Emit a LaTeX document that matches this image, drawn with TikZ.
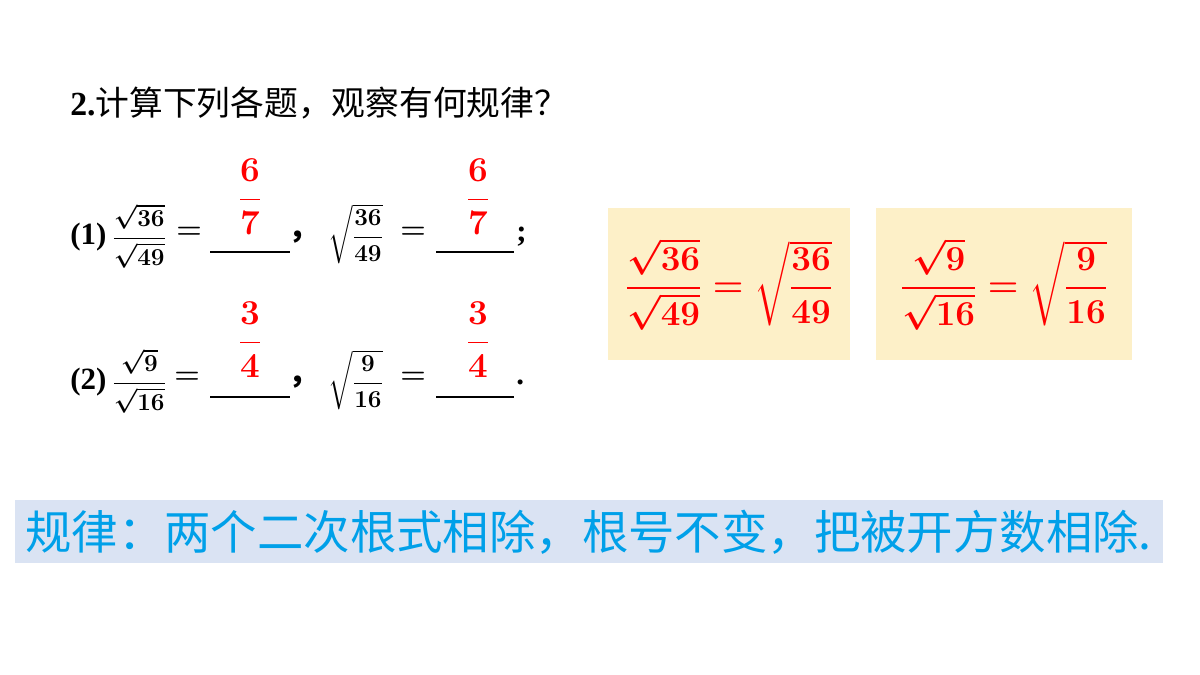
\documentclass[tikz,border=0pt]{standalone}
\usepackage{amsmath}
\usepackage{fontspec}
\setmainfont{Liberation Serif}
\newfontfamily\cjk{Noto Sans CJK SC}
\definecolor{ansred}{RGB}{255,0,0}
\definecolor{boxyellow}{RGB}{253,240,200}
\definecolor{bandblue}{RGB}{218,227,243}
\definecolor{ruleblue}{RGB}{0,160,233}
\tikzset{
  txt/.style={anchor=west, inner sep=0pt, font=\fontsize{22}{26}\selectfont\bfseries\boldmath},
  mth/.style={anchor=west, inner sep=0pt, font=\fontsize{19}{22}\selectfont\bfseries\boldmath},
  ans/.style={inner sep=0pt, text=ansred, font=\fontsize{27}{30}\selectfont\bfseries\boldmath},
  big/.style={inner sep=0pt, text=ansred, font=\fontsize{28}{34}\selectfont\bfseries\boldmath},
  blank/.style={thick, black}
}
\begin{document}
\begin{tikzpicture}[x=0.025cm, y=-0.025cm]
  \useasboundingbox (0,0) rectangle (1200,675);
  % title
  \node[txt, font=\fontsize{24}{28}\selectfont\bfseries] (title) at (70,103) {2.{\cjk\mdseries 计算下列各题，观察有何规律？}};
  % row 1
  \node[txt] (r1) at (70,237) {(1)};
  \node[mth] (q1) at (112,236) {$\dfrac{\sqrt{36}}{\sqrt{49}}$};
  \node[txt] (e1) at (176,233) {$=$};
  \coordinate (b1a) at (210,252); \coordinate (b1b) at (290,252);
  \draw[blank] (b1a) -- (b1b);
  \node[ans] (a1) at (250,197) {$\dfrac{6}{7}$};
  \node[txt] (c1) at (288,237) {\cjk ，};
  \node[mth] (q2) at (328,234) {$\sqrt{\dfrac{36}{49}}$};
  \node[txt] (e2) at (400,233) {$=$};
  \coordinate (b2a) at (436,252); \coordinate (b2b) at (514,252);
  \draw[blank] (b2a) -- (b2b);
  \node[ans] (a2) at (478,197) {$\dfrac{6}{7}$};
  \node[txt] (semi) at (516,237) {;};
  % row 2
  \node[txt] (r2) at (70,382) {(2)};
  \node[mth] (q3) at (112,381) {$\dfrac{\sqrt{9}}{\sqrt{16}}$};
  \node[txt] (e3) at (174,378) {$=$};
  \coordinate (b3a) at (210,397); \coordinate (b3b) at (290,397);
  \draw[blank] (b3a) -- (b3b);
  \node[ans] (a3) at (250,340) {$\dfrac{3}{4}$};
  \node[txt] (c2) at (288,382) {\cjk ，};
  \node[mth] (q4) at (328,380) {$\sqrt{\dfrac{9}{16}}$};
  \node[txt] (e4) at (400,378) {$=$};
  \coordinate (b4a) at (436,397); \coordinate (b4b) at (514,397);
  \draw[blank] (b4a) -- (b4b);
  \node[ans] (a4) at (478,340) {$\dfrac{3}{4}$};
  \node[txt] (dot) at (516,382) {.};
  % yellow boxes
  \fill[boxyellow] (608,208) rectangle (850,360);
  \fill[boxyellow] (876,208) rectangle (1132,360);
  \node[big] (f1) at (729,284) {$\dfrac{\sqrt{36}}{\sqrt{49}}=\sqrt{\dfrac{36}{49}}$};
  \node[big] (f2) at (1004,284) {$\dfrac{\sqrt{9}}{\sqrt{16}}=\sqrt{\dfrac{9}{16}}$};
  % rule band
  \fill[bandblue] (15,500) rectangle (1163,563);
  \node[anchor=west, inner sep=0pt, text=ruleblue, font=\fontsize{33}{36}\selectfont\cjk] (rule) at (25,532) {规律：两个二次根式相除，根号不变，把被开方数相除.};
\end{tikzpicture}
\end{document}
